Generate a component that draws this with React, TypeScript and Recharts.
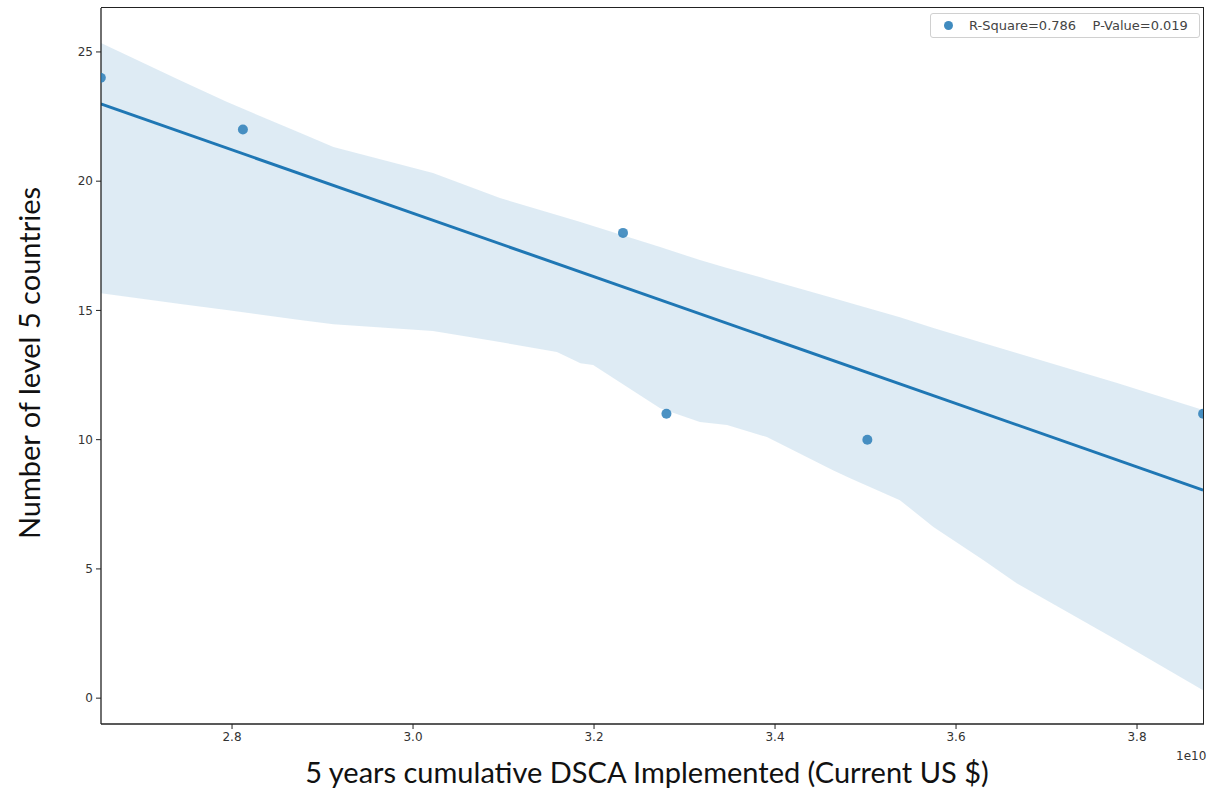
import { ComposedChart, Area, Line, Scatter, XAxis, YAxis } from 'recharts';

document.body.style.margin = '0';

// x values are in units of 1e10 US$
const pointX = [2.655, 2.812, 3.232, 3.28, 3.502, 3.873];
const pointY = [24, 22, 18, 11, 10, 11];

const fitX = [2.655, 3.873];
const fitY = [22.99, 8.05];

const bandX = [2.655, 2.743, 2.794, 2.875, 2.912, 3.022, 3.096, 3.159, 3.185, 3.199, 3.273, 3.317, 3.347, 3.391, 3.464, 3.483, 3.538, 3.575, 3.63, 3.667, 3.778, 3.873];
const bandHigh = [25.35, 23.9, 23.07, 21.87, 21.32, 20.32, 19.35, 18.69, 18.42, 18.27, 17.45, 16.95, 16.64, 16.21, 15.48, 15.29, 14.74, 14.32, 13.74, 13.35, 12.19, 11.15];
const bandLow = [15.67, 15.25, 15.02, 14.63, 14.47, 14.2, 13.78, 13.39, 12.96, 12.89, 11.22, 10.68, 10.57, 10.1, 8.82, 8.51, 7.66, 6.62, 5.34, 4.45, 2.24, 0.31];

const xTicks = [2.8, 3.0, 3.2, 3.4, 3.6, 3.8];
const yTicks = [0, 5, 10, 15, 20, 25];

const legendLabel = 'R-Square=0.786    P-Value=0.019';

const BLUE = '#1f77b4';

const points = pointX.map((x, i) => ({ x, y: pointY[i] }));
const fit = fitX.map((x, i) => ({ x, fit: fitY[i] }));
const band = bandX.map((x, i) => ({ x, band: [bandLow[i], bandHigh[i]] }));

const tickStyle = { fontFamily: 'DejaVu Sans', fontSize: 12, fill: '#333' };

function LegendBox() {
  return (
    <div
      style={{
        position: 'absolute',
        left: 930,
        top: 13,
        border: '1px solid #d0d0d0',
        borderRadius: 3,
        background: 'rgba(255,255,255,0.8)',
        height: 25,
        width: 270,
        boxSizing: 'border-box',
        display: 'flex',
        alignItems: 'center',
        fontFamily: 'DejaVu Sans',
        fontSize: 13,
        color: '#444',
        whiteSpace: 'pre',
      }}
    >
      <span
        style={{
          display: 'inline-block',
          width: 9,
          height: 9,
          borderRadius: '50%',
          background: BLUE,
          opacity: 0.85,
          marginLeft: 13,
          marginRight: 16,
        }}
      />
      {legendLabel}
    </div>
  );
}

export default function App() {
  return (
    <div style={{ position: 'relative', width: 1212, height: 797, background: '#fff' }}>
      <ComposedChart width={1212} height={797} margin={{ top: 8, right: 8, bottom: 0, left: 0 }}>
        <XAxis
          dataKey="x"
          type="number"
          domain={[2.6552, 3.874]}
          ticks={xTicks}
          tickFormatter={(v: number) => v.toFixed(1)}
          allowDataOverflow
          height={73}
          tickSize={5}
          tickMargin={3}
          tick={tickStyle}
          axisLine={{ stroke: '#222', strokeWidth: 1.3 }}
          tickLine={{ stroke: '#222' }}
        />
        <YAxis
          type="number"
          domain={[-1.0, 26.7]}
          ticks={yTicks}
          allowDataOverflow
          width={101}
          tickSize={5}
          tickMargin={3}
          tick={tickStyle}
          axisLine={{ stroke: '#222', strokeWidth: 1.3 }}
          tickLine={{ stroke: '#222' }}
        />
        <Area
          data={band}
          dataKey="band"
          type="linear"
          stroke="none"
          fill={BLUE}
          fillOpacity={0.15}
          isAnimationActive={false}
          activeDot={false}
        />
        <Line
          data={fit}
          dataKey="fit"
          type="linear"
          stroke={BLUE}
          strokeWidth={3}
          dot={false}
          activeDot={false}
          isAnimationActive={false}
        />
        <Scatter
          data={points}
          dataKey="y"
          fill={BLUE}
          fillOpacity={0.8}
          shape={(p: any) => <circle cx={p.cx} cy={p.cy} r={5} fill={BLUE} fillOpacity={0.8} />}
          isAnimationActive={false}
        />
      </ComposedChart>

      {/* top and right spines */}
      <div
        style={{
          position: 'absolute',
          left: 101,
          top: 7,
          width: 1103,
          height: 717,
          borderTop: '1.3px solid #222',
          borderRight: '1.3px solid #222',
          boxSizing: 'border-box',
          pointerEvents: 'none',
        }}
      />

      <LegendBox />

      <div
        style={{
          position: 'absolute',
          left: 1176,
          top: 749,
          fontFamily: 'DejaVu Sans',
          fontSize: 12,
          color: '#333',
        }}
      >
        1e10
      </div>
      <div
        style={{
          position: 'absolute',
          left: 0,
          width: 1294,
          top: 754,
          textAlign: 'center',
          fontFamily: 'Lato',
          fontSize: 29,
          color: '#111',
          whiteSpace: 'pre',
        }}
      >
        5 years cumulative DSCA Implemented (Current US $)
      </div>
      <div
        style={{
          position: 'absolute',
          left: 28,
          top: 363,
          transform: 'translate(-50%, -50%) rotate(-90deg)',
          fontFamily: 'Lato',
          fontSize: 29,
          color: '#111',
          whiteSpace: 'pre',
        }}
      >
        Number of level 5 countries
      </div>
    </div>
  );
}
